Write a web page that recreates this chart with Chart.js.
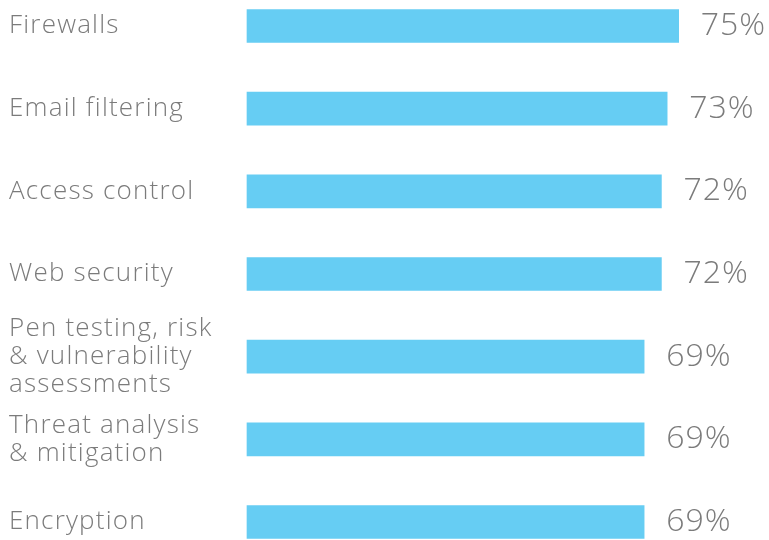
<!DOCTYPE html>
<html>
<head>
<meta charset="utf-8">
<script src="https://cdn.jsdelivr.net/npm/chart.js@4"></script>
<style>
  html, body { margin: 0; padding: 0; background: #ffffff; }
  #wrap { width: 769px; height: 540px; }
</style>
</head>
<body>
<div id="wrap"><canvas id="chart-security"></canvas></div>
<script>
const categories = [
  ['Firewalls'],
  ['Email filtering'],
  ['Access control'],
  ['Web security'],
  ['Pen testing, risk', '& vulnerability', 'assessments'],
  ['Threat analysis', '& mitigation'],
  ['Encryption']
];
const values = [75, 73, 72, 72, 69, 69, 69];
const valueLabels = ['75%', '73%', '72%', '72%', '69%', '69%', '69%'];

const barColor = '#66CDF3';
const textColor = '#7b7b7b';

// wider letters, like the original typeface
const spacingPlugin = {
  id: 'spacing',
  beforeDraw(chart) {
    chart.ctx.letterSpacing = '1.2px';
  }
};

// draws the percentage next to each bar
const valueLabelPlugin = {
  id: 'valueLabels',
  afterDatasetsDraw(chart) {
    const ctx = chart.ctx;
    const meta = chart.getDatasetMeta(0);
    ctx.save();
    ctx.font = '300 32px "Open Sans"';
    ctx.letterSpacing = '1px';
    ctx.fillStyle = textColor;
    ctx.textAlign = 'left';
    ctx.textBaseline = 'middle';
    meta.data.forEach((bar, i) => {
      ctx.fillText(valueLabels[i], bar.x + 22, bar.y);
    });
    ctx.restore();
  }
};

const chartSecurity = document.getElementById('chart-security');

new Chart(chartSecurity, {
  type: 'bar',
  data: {
    labels: categories,
    datasets: [{
      data: values,
      backgroundColor: barColor,
      barThickness: 33,
      clip: false
    }]
  },
  options: {
    indexAxis: 'y',
    responsive: true,
    maintainAspectRatio: false,
    animation: false,
    layout: {
      padding: { left: 9, right: 4, top: 26, bottom: 18 }
    },
    plugins: {
      legend: { display: false },
      tooltip: { enabled: false }
    },
    scales: {
      x: {
        display: false,
        min: 0,
        max: 90
      },
      y: {
        offset: false,
        grid: { display: false },
        border: { display: false },
        afterFit(scale) { scale.width = 238; },
        ticks: {
          autoSkip: false,
          crossAlign: 'far',
          color: textColor,
          font: { family: 'Open Sans', size: 26, weight: '300', lineHeight: 1.08 }
        }
      }
    }
  },
  plugins: [spacingPlugin, valueLabelPlugin]
});
</script>
</body>
</html>
